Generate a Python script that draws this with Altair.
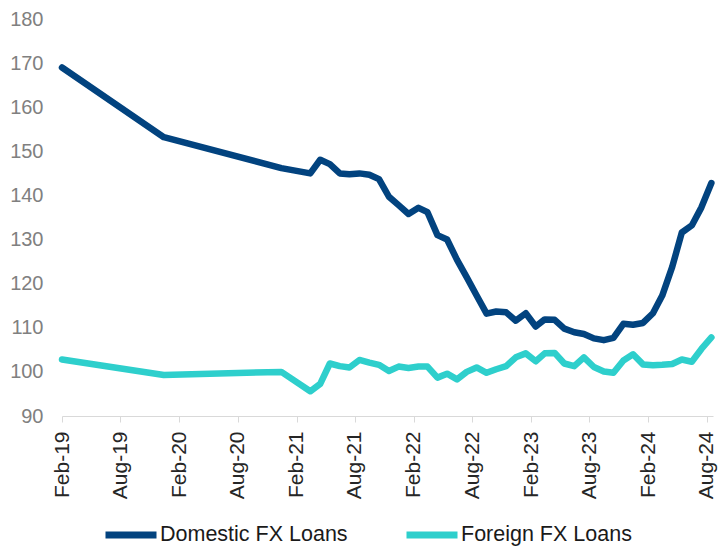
import altair as alt
import pandas as pd

# Dates of observations (first point at the axis start, then mid-month)
dates = [
    "2019-02-01", "2019-12-15", "2020-12-15",
    "2021-03-15", "2021-04-15", "2021-05-15", "2021-06-15", "2021-07-15", "2021-08-15",
    "2021-09-15", "2021-10-15", "2021-11-15", "2021-12-15",
    "2022-01-15", "2022-02-15", "2022-03-15", "2022-04-15", "2022-05-15", "2022-06-15",
    "2022-07-15", "2022-08-15", "2022-09-15", "2022-10-15", "2022-11-15", "2022-12-15",
    "2023-01-15", "2023-02-15", "2023-03-15", "2023-04-15", "2023-05-15", "2023-06-15",
    "2023-07-15", "2023-08-15", "2023-09-15", "2023-10-15", "2023-11-15", "2023-12-15",
    "2024-01-15", "2024-02-15", "2024-03-15", "2024-04-15", "2024-05-15", "2024-06-15",
    "2024-07-15", "2024-08-15",
]

domestic = [
    169.0, 153.2, 146.2,
    145.0, 148.1, 147.1, 145.0, 144.8, 145.0,
    144.7, 143.7, 139.7, 137.8,
    135.8, 137.2, 136.2, 131.0, 130.0, 125.4,
    121.5, 117.3, 113.2, 113.7, 113.5, 111.6,
    113.3, 110.3, 111.9, 111.8, 109.8, 109.0,
    108.6, 107.6, 107.2, 107.7, 110.9, 110.7,
    111.1, 113.3, 117.3, 123.8, 131.6, 133.2,
    137.3, 142.8,
]

foreign = [
    102.8, 99.3, 100.0,
    95.6, 97.3, 101.9, 101.3, 101.0, 102.7,
    102.1, 101.6, 100.2, 101.2,
    100.9, 101.2, 101.2, 98.7, 99.6, 98.3,
    100.0, 101.0, 99.8, 100.6, 101.3, 103.3,
    104.2, 102.4, 104.2, 104.3, 101.9, 101.3,
    103.3, 101.1, 100.1, 99.8, 102.6, 104.0,
    101.7, 101.5, 101.6, 101.8, 102.8, 102.3,
    105.2, 107.8,
]

series_names = ["Domestic FX Loans", "Foreign FX Loans"]
series_colors = ["#02437f", "#2ecfcc"]

df = pd.DataFrame({
    "date": dates * 2,
    "value": domestic + foreign,
    "series": [series_names[0]] * len(dates) + [series_names[1]] * len(dates),
})

tick_dates = [alt.DateTime(year=y, month=m, date=1, utc=True)
              for y in range(2019, 2025) for m in (2, 8)]

FONT = "Liberation Sans"

chart = alt.Chart(df).mark_line(
    strokeWidth=6.5, strokeCap="round", strokeJoin="round"
).encode(
    x=alt.X(
        "date:T",
        scale=alt.Scale(
            type="utc",
            domain=[alt.DateTime(year=2019, month=2, date=1, utc=True),
                    alt.DateTime(year=2024, month=8, date=20, utc=True)],
        ),
        axis=alt.Axis(
            title=None,
            values=tick_dates,
            labelExpr="utcFormat(datum.value, '%b-%y')",
            labelAngle=270,
            labelAlign="right",
            labelBaseline="middle",
            labelFontSize=21,
            labelColor="#262626",
            labelFont=FONT,
            labelPadding=9,
            tickSize=6,
            tickColor="#d9d9d9",
            domainColor="#d9d9d9",
            grid=False,
            labelOverlap=False,
        ),
    ),
    y=alt.Y(
        "value:Q",
        scale=alt.Scale(domain=[90, 180], nice=False, zero=False),
        axis=alt.Axis(
            title=None,
            values=list(range(90, 181, 10)),
            labelFontSize=20,
            labelColor="#808080",
            labelFont=FONT,
            labelPadding=19,
            ticks=False,
            tickSize=0,
            domain=False,
            grid=False,
        ),
    ),
    color=alt.Color(
        "series:N",
        scale=alt.Scale(domain=series_names, range=series_colors),
        legend=alt.Legend(
            title=None,
            orient="none",
            legendX=40,
            legendY=487,
            direction="horizontal",
            symbolType="stroke",
            symbolSize=2601,
            symbolStrokeWidth=7,
            labelFontSize=21.5,
            labelFont=FONT,
            labelColor="#1a1a1a",
            labelOffset=0,
            columnPadding=44,
            labelLimit=400,
        ),
    ),
).properties(
    width=651,
    height=397,
    autosize=alt.AutoSizeParams(type="none"),
    padding={"left": 54, "top": 11, "right": 5, "bottom": 131},
).configure_view(stroke=None)

chart.save("out.html", embed_options={"renderer": "svg", "actions": False})
